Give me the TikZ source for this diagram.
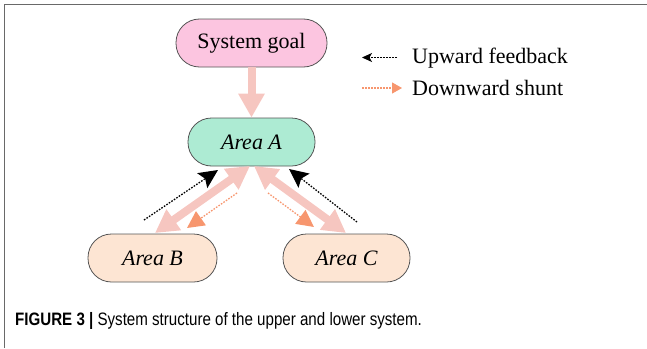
\documentclass[tikz,border=0pt]{standalone}
\usepackage{fontspec}
\setmainfont{Liberation Serif}
\newfontfamily\capfont[FakeStretch=0.84]{Liberation Sans}
\usetikzlibrary{arrows.meta}

\definecolor{goalfill}{RGB}{252,197,224}
\definecolor{areaAfill}{RGB}{173,235,211}
\definecolor{areaBfill}{RGB}{253,229,211}
\definecolor{boxline}{RGB}{85,85,85}
\definecolor{flowpink}{RGB}{246,198,192}
\definecolor{shunt}{RGB}{247,150,110}
\definecolor{framegray}{RGB}{105,105,105}

\begin{document}
\begin{tikzpicture}[x=1pt,y=-1pt,
  pill/.style={draw=boxline, line width=0.8pt, rounded corners=23.5pt,
    minimum width=#1, minimum height=48pt, inner sep=0pt,
    font=\fontsize{22}{26}\selectfont},
  flow/.style={draw=flowpink, line width=8pt,
    -{Triangle[length=24pt,width=25pt]}},
  flowboth/.style={draw=flowpink, line width=8pt,
    {Triangle[length=23pt,width=24pt]}-{Triangle[length=23pt,width=24pt]}},
  feedback/.style={draw=black, line width=1.3pt, dash pattern=on 1.6pt off 1.4pt,
    -{Stealth[length=19pt,width=18pt,inset=3.5pt]}},
  shuntline/.style={draw=shunt, line width=1.3pt, dash pattern=on 1.6pt off 1.4pt,
    -{Triangle[length=17pt,width=17pt]}},
  legtext/.style={anchor=base west, inner sep=0pt, font=\fontsize{22}{26}\selectfont},
]
\useasboundingbox (0,0) rectangle (647,348);

% figure frame
\draw[framegray, line width=1.5pt] (4.5,348) -- (4.5,4.5) -- (647,4.5);

% boxes
\node[pill=151pt, fill=goalfill] (goal) at (251.5,43) {System goal};
\node[pill=127pt, fill=areaAfill] (A) at (251.5,142) {\itshape Area A};
\node[pill=129pt, fill=areaBfill] (B) at (152.5,258) {\itshape Area B};
\node[pill=127pt, fill=areaBfill] (C) at (346.5,258) {\itshape Area C};

% end points of the links between areas
\coordinate (AtoB) at (250,166);
\coordinate (BtoA) at (155,233);
\coordinate (AtoC) at (254,166);
\coordinate (CtoA) at (346,233);
\coordinate (fbLtail) at (144,220);
\coordinate (fbLtip) at (218,170);
\coordinate (fbRtail) at (357,222);
\coordinate (fbRtip) at (289,169);
\coordinate (shLtail) at (237,193);
\coordinate (shLtip) at (187,228);
\coordinate (shRtail) at (268,193);
\coordinate (shRtip) at (314,227);

% main flows
\draw[flow] (goal.south) -- (A.north);
\draw[flowboth] (BtoA) -- (AtoB);
\draw[flowboth] (CtoA) -- (AtoC);

% feedback and shunt
\draw[feedback] (fbLtail) -- (fbLtip);
\draw[feedback] (fbRtail) -- (fbRtip);
\draw[shuntline] (shLtail) -- (shLtip);
\draw[shuntline] (shRtail) -- (shRtip);

% legend
\coordinate (lg1tail) at (397,57.5);
\coordinate (lg1tip) at (362,57.5);
\coordinate (lg2tail) at (362,88);
\coordinate (lg2tip) at (402,88);
\draw[draw=black, line width=1.1pt, dash pattern=on 1.6pt off 1.4pt,
  -{Stealth[length=10pt,width=9pt,inset=2.5pt]}] (lg1tail) -- (lg1tip);
\draw[draw=shunt, line width=1.1pt, dash pattern=on 1.6pt off 1.4pt,
  -{Triangle[length=10pt,width=11pt]}] (lg2tail) -- (lg2tip);
\node[legtext] (lg1) at (412,63) {Upward feedback};
\node[legtext] (lg2) at (412,95) {Downward shunt};

% caption
\node[anchor=base west, inner sep=0pt, font=\capfont\fontsize{18}{22}\selectfont] (cap) at (15,325)
  {\textbf{FIGURE 3 |} System structure of the upper and lower system.};
\end{tikzpicture}
\end{document}
